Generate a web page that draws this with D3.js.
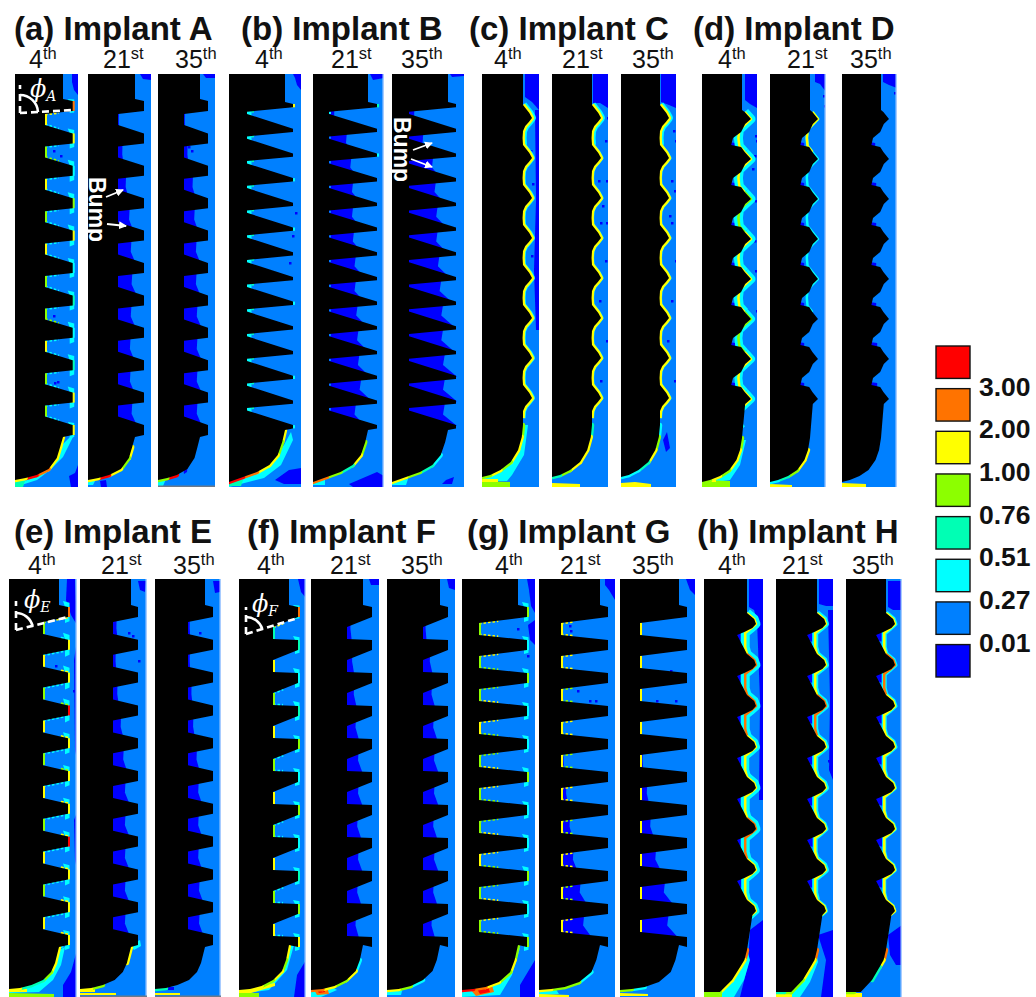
<!DOCTYPE html>
<html>
<head>
<meta charset="utf-8">
<script src="https://cdn.jsdelivr.net/npm/d3@7"></script>
<style>
  html, body { margin: 0; background: #fff; }
  text { font-family: "Liberation Sans", Arial, sans-serif; }
</style>
</head>
<body>
<div id="main"></div>
<script>
// Chart values

const implants = ['A', 'B', 'C', 'D', 'E', 'F', 'G', 'H'];
const panelTags = ['a', 'b', 'c', 'd', 'e', 'f', 'g', 'h'];
const days = [['4', 'th'], ['21', 'st'], ['35', 'th']];
const legendValues = ['3.00', '2.00', '1.00', '0.76', '0.51', '0.27', '0.01'];

// strain bands, low to high
const strainBreaks = [0.01, 0.27, 0.51, 0.76, 1, 2, 3];
const strainColors = ['#0000ff', '#0080ff', '#00ffff', '#00ffb4', '#8cff00', '#ffff00', '#ff7300', '#ff0000'];

// implant radii for each day (4th, 21st, 35th)
const neckRadius = {A: [48, 47, 42], B: [56, 55, 56], C: [41, 40, 39], D: [40, 40, 39], E: [50, 51, 50], F: [50, 52, 53], G: [56, 61, 59], H: [43, 41, 40]};
const crestRadius = {A: [57.7, 56, 50], B: [64, 64, 64], C: [50, 49, 48], D: [49, 48, 47], E: [59, 58, 58], F: [59, 61, 61], G: [65, 69, 67], H: [52, 50, 49]};
const rootRadius = {A: [30, 30, 26], B: [18, 16, 17], C: [41, 40, 39], D: [40, 40, 39], E: [34, 33, 33], F: [34, 36, 36], G: [17, 22, 20], H: [43, 41, 40]};

// one thread turn: [depth, 0 = root .. 1 = crest]
const toothShape = {
  A: [[0, 1], [10, 1], [13, 0], [24, 0]],
  B: [[0, 1], [3.3, 1], [7.7, 0], [10, 0]],
  C: [[0, 0], [4, 0.35], [8, 0.7], [13, 1], [17, 0.65], [21, 0.25], [26, 0], [33, -0.05]],
  D: [[0, 0.3], [7, 1], [12, 0.35], [20, -0.1], [26, -1], [33, -1.2], [35, -0.1]],
  E: [[0, 1], [10, 1], [15, 0], [27, 0]],
  F: [[0, 1], [10, 1], [20, 0], [32, 0]],
  G: [[0, 1], [10, 1], [16, 0], [28, 0]],
  H: [[0, 0], [6, 0.8], [11, 1], [15, 0.6], [19, -0.3], [22, -1.1]]
};
// contour line running in the tissue between the crests
const contourShape = {
  C: toothShape.C,
  D: [[0, 0.3], [7, 1], [12, 0.4], [18, -0.3], [26, -0.4], [34, -0.3], [37, 0]],
  H: [[0, 0], [6, 0.8], [11, 1], [15, 0.5], [20, -0.2], [34, -0.2]]
};
const toothPitch = {A: 32.4, B: 24.7, C: 40, D: 40, E: 32.8, F: 33, G: 33, H: 41};
const toothCount = {A: 11, B: 14, C: 8, D: 8, E: 11, F: 11, G: 11, H: 8};
const threadStart = {A: 101, B: 104, C: 105, D: 112, E: 607, F: 607, G: 607, H: 613};
const lastToothEnd = {A: 10, B: 3.3, C: 26, D: 14, E: 10, F: 10, G: 10, H: 15};

// apex curve: [share of neck radius, depth]
const apexCurve = {
  A: [[1, 437], [0.94, 447], [0.87, 458], [0.7, 469], [0.45, 475], [0.22, 478], [0, 480]],
  B: [[1, 430], [0.95, 442], [0.87, 455], [0.72, 465], [0.5, 472], [0.25, 477], [0, 482]],
  C: [[1, 425], [0.97, 437], [0.88, 450], [0.7, 462], [0.45, 470], [0.2, 475], [0, 477]],
  D: [[1, 438], [0.95, 450], [0.86, 460], [0.68, 470], [0.45, 476], [0.2, 480], [0, 482]],
  E: [[1, 947], [0.92, 963], [0.84, 972], [0.68, 980], [0.45, 985], [0.22, 988], [0, 989]],
  F: [[1, 945], [0.94, 960], [0.86, 971], [0.68, 980], [0.45, 986], [0.22, 989], [0, 990]],
  G: [[1, 945], [0.94, 960], [0.86, 972], [0.66, 982], [0.42, 987], [0.2, 989], [0, 990]],
  H: [[1, 950], [0.94, 960], [0.84, 967], [0.65, 980], [0.37, 992], [0.2, 992], [0, 992]]
};
const apexStrain = {
  A4: [1.5, 1.5, 1.5, 2.5, 3.5, 1.5], A21: [0.1, 1.5, 0.9, 1.5, 3.5, 1.5], A35: [0.1, 0.1, 0.1, 0.1, 3.5, 0.9],
  B4: [1.5, 0.9, 1.5, 1.5, 2.5, 3.5], B21: [0.1, 0.9, 1.5, 0.6, 0.9, 2.5], B35: [0.1, 0.1, 0.4, 0.6, 0.9, 1.5],
  C4: [0.9, 1.5, 1.5, 0.9, 1.5, 0.9], C21: [0.6, 1.5, 1.5, 1.5, 0.9, 0.6], C35: [0.4, 0.9, 1.5, 0.6, 0.4, 0.4],
  D4: [0.9, 1.5, 1.5, 0.9, 1.5, 0.9], D21: [0.1, 1.5, 1.5, 0.9, 0.6, 0.4], D35: [0.1, 0.1, 0.1, 0.1, 0.1, 0.1],
  E4: [1.5, 1.5, 0.9, 0.6, 0.6, 1.5], E21: [1.5, 0.1, 0.1, 0.1, 0.9, 1.5], E35: [0.1, 0.1, 0.1, 0.1, 0.1, 0.6],
  F4: [1.5, 0.9, 1.5, 0.9, 1.5, 1.5], F21: [0.1, 0.4, 1.5, 0.9, 1.5, 2.5], F35: [0.1, 0.1, 0.1, 0.4, 0.9, 1.5],
  G4: [0.9, 1.5, 0.9, 1.5, 2.5, 3.5], G21: [0.1, 0.1, 0.4, 0.9, 0.9, 1.5], G35: [0.1, 0.1, 0.1, 0.1, 0.4, 0.9],
  H4: [2.5, 1.5, 1.5, 1.5, 0.9, 0.9], H21: [2.5, 1.5, 1.5, 0.9, 0.9, 0.6], H35: [2.5, 1.5, 0.6, 0.1, 0.1, 0.9]
};

// width of the lowest strain zone in each gap between teeth
const gapLow = {
  A21: [1, 5, 9, 13, 15, 16, 15, 14, 14, 16],
  A35: [1, 4, 10, 12, 14, 14, 15, 15, 15, 15],
  B21: [6, 20, 25, 27, 27, 28, 30, 30, 32, 33, 34, 36, 30],
  B35: [6, 16, 27, 30, 32, 32, 34, 36, 38, 38, 40, 40, 40],
  E21: [4, 3, 5, 9, 12, 14, 14, 14, 14, 14],
  E35: [2, 2, 4, 6, 10, 12, 12, 12, 13, 13],
  F21: [4, 6, 8, 10, 13, 13, 12, 13, 12, 10],
  F35: [3, 8, 10, 12, 13, 13, 12, 13, 12, 10],
  G21: [0, 0, 0, 1, 3, 6, 10, 14, 22, 26],
  G35: [0, 0, 0, 0, 3, 8, 12, 18, 28, 32]
};
const notchLow = {
  D4: [3, 3, 3, 3, 3, 3, 3], D21: [3, 3, 3, 3, 3, 3, 3], D35: [3, 4, 4, 4, 4, 5, 5],
  H4: [4, 4, 4, 4, 4, 5, 5], H21: [6, 6, 6, 6, 6, 6, 6], H35: [7, 7, 7, 7, 7, 7, 7]
};

// strain along the thread surface, tooth by tooth
const threadStrain = {
  A4: {crest: [2, 1.5, 0.4, 0.9, 1.5, 0.4, 0.6, 0.4, 0.6, 1.5, 1.5], upper: [1.5, 0.4, 0.4, 0.4, 0.4, 0.4, 0.4, 0.4, 0.4, 0.4, 0.4], root: [1.5, 0.9, 1.5, 0.9, 1.5, 0.9, 0.9, 1.5, 0.9, 0.9], lower: [0.4, 0.9, 0.4, 0.4, 0.4, 0.4, 0.9, 0.4, 0.4, 0.4], halo: [2, 5, 6, 6, 6, 5, 5, 6, 6, 6, 3], reach: 0.5},
  B4: {crest: [1.5, 0.1, 0.1, 0.4, 0.1, 0.4, 0.1, 0.1, 0.4, 0.1, 0.1, 0.4, 0.1, 0.4], upper: [0.6, 0.6, 0.6, 0.6, 0.6, 0.6, 0.6, 0.6, 0.6, 0.6, 0.6, 0.6, 0.6], root: [0.4, 0.4, 0.4, 0.4, 0.4, 0.4, 0.4, 0.4, 0.4, 0.4, 0.4, 0.4, 0.4], rootWide: 9, reach: 0.15},
  B21: {crest: [0.6, 0.1, 0.4, 0.1, 0.1, 0.1, 0.1, 0.1, 0.1, 0.1, 0.1, 0.1, 0.1, 0.1], root: [0.4, 0.1, 0.1, 0.1, 0.1, 0.1, 0.1, 0.1, 0.1, 0.1, 0.1, 0.1, 0.1]},
  E4: {crest: [2.5, 1.5, 1.5, 3.5, 1.5, 1.5, 1.5, 3.5, 1.5, 1.5, 1.5], upper: [1.5, 0.4, 0.4, 0.4, 0.4, 0.4, 0.4, 0.4, 0.4, 0.4, 0.4], root: [0.9, 1.5, 0.9, 1.5, 0.9, 1.5, 0.9, 1.5, 0.9, 1.5], lowerTip: [0.4, 1.5, 0.9, 1.5, 0.9, 1.5, 1.5, 1.5, 1.5, 1.5], halo: [6, 7, 7, 7, 6, 6, 6, 6, 6, 6, 5]},
  F4: {crest: [2.5, 0.6, 0.4, 0.6, 0.9, 0.4, 0.9, 0.4, 0.6, 0.9, 1.5], upper: [1.5, 0.1, 0.4, 0.1, 0.4, 0.1, 0.4, 0.1, 0.4, 0.1, 0.4], root: [0.6, 1.5, 0.9, 1.5, 0.9, 1.5, 0.9, 1.5, 0.9, 1.5], lower: [0.1, 0.1, 0.4, 0.1, 0.4, 0.1, 0.4, 0.1, 0.4, 0.4], halo: [2, 4, 5, 5, 4, 4, 4, 4, 4, 4, 4], reach: 0.4},
  G4: {crest: [0.9, 0.4, 0.9, 0.4, 0.4, 0.9, 0.4, 0.4, 0.9, 0.4, 0.9], upper: [1.5, 1.5, 0.9, 1.5, 0.9, 1.5, 0.9, 1.5, 0.9, 1.5], root: [0.9, 0.9, 0.9, 1.5, 0.9, 0.9, 0.9, 1.5, 0.9, 0.9], lower: [1.5, 0.9, 1.5, 0.9, 1.5, 0.9, 1.5, 0.9, 1.5, 0.9], halo: [5, 4, 5, 4, 4, 5, 4, 4, 5, 4, 4], reach: 0.4},
  G21: {upper: [1.5, 1.5, 0.9, 1.5, 0.9, 1.5, 0.9, 1.5, 0.9, 1.5], root: [1.5, 1.5, 1.5, 1.5, 1.5, 1.5, 1.5, 1.5, 1.5, 1.5], lower: [1.5, 1.5, 0.9, 1.5, 0.9, 1.5, 0.9, 1.5, 0.9, 1.5], reach: 0.25},
  G35: {root: [1.5, 1.5, 1.5, 1.5, 1.5, 1.5, 1.5, 1.5, 1.5, 1.5]}
};

// strain on the contour of the rounded threads, tooth by tooth
const contourStrain = {
  C4: {line: [1.5, 1.5, 1.5, 1.5, 1.5, 1.5, 1.5, 1.5], halo: [8, 6, 6, 6, 6, 6, 6, 6]},
  C21: {line: [1.5, 1.5, 1.5, 1.5, 1.5, 1.5, 1.5, 1.5], halo: [8, 5, 5, 5, 5, 5, 5, 5]},
  C35: {line: [1.5, 1.5, 1.5, 1.5, 1.5, 1.5, 1.5, 1.5], halo: [8, 5, 5, 5, 5, 5, 5, 5]},
  D4: {line: [1.5, 1.5, 0.9, 1.5, 1.5, 0.9, 1.5, 1.5], halo: [9, 9, 9, 9, 9, 8, 8, 8]},
  D21: {line: [1.5, 0.4, 0.4, 0.4, 0.4, 0.1, 0.1, 0.1], halo: [3, 0, 0, 0, 0, 0, 0, 0]},
  H4: {line: [1.5, 2.5, 2.5, 1.5, 1.5, 2.5, 1.5, 1.5], halo: [9, 9, 9, 8, 9, 9, 8, 7]},
  H21: {line: [1.5, 1.5, 2.5, 1.5, 1.5, 1.5, 1.5, 1.5], halo: [6, 6, 6, 6, 6, 5, 6, 4]},
  H35: {line: [1.5, 2.5, 1.5, 1.5, 1.5, 1.5, 1.5, 1.5], halo: [5, 5, 5, 5, 4, 4, 4, 3]}
};

// patches of the field: [strain, outline of [radius, depth]]
const fieldZones = {
  A4: [[0.005, [[57, 74], [63, 74], [63, 95], [59, 90], [57, 82]]], [0.005, [[54, 476], [60, 473], [63, 465], [63, 487], [56, 487]]], [0.4, [[0, 480], [18, 476], [35, 466], [45, 447], [55, 437], [58, 437], [48, 457], [35, 470], [22, 480], [0, 487]]], [0.6, [[0, 481], [10, 481], [8, 487], [0, 487]]]],
  A21: [[0.005, [[52, 74], [63, 74], [63, 80], [55, 79]]], [0.005, [[12, 481], [18, 480], [19, 487], [13, 487]]], [0.4, [[0, 481], [7, 481], [5, 485], [0, 485]]]],
  A35: [[0.005, [[45, 74], [57, 74], [57, 78], [48, 78]]], [0.4, [[0, 479], [8, 479], [5, 486], [0, 486]]], [0.005, [[25, 465], [30, 462], [29, 472], [26, 474]]]],
  B4: [[0.005, [[64, 74], [72, 74], [72, 90], [68, 85], [66, 78]]], [0.4, [[0, 481], [20, 476], [40, 466], [55, 445], [62, 432], [64, 440], [52, 465], [35, 478], [0, 487]]], [0.005, [[46, 480], [60, 470], [72, 468], [72, 484], [55, 484]]], [0.6, [[0, 481], [14, 480], [12, 486], [0, 486]]]],
  B21: [[0.005, [[57, 74], [71, 74], [71, 78], [60, 80]]], [0.4, [[0, 481], [12, 479], [12, 485], [0, 485]]], [0.005, [[36, 484], [50, 478], [64, 472], [71, 476], [71, 487], [40, 487]]]],
  B35: [[0.005, [[58, 74], [72, 74], [72, 76], [60, 77]]], [0.4, [[0, 481], [16, 479], [14, 485], [0, 485]]], [0.005, [[50, 484], [54, 480], [62, 477], [60, 484]]]],
  C4: [[0.005, [[43, 74], [57, 74], [57, 110], [50, 102], [43, 97]]], [0.005, [[53, 110], [57, 110], [57, 330], [54, 330], [52, 270], [54, 200]]], [0.4, [[0, 477], [20, 470], [34, 455], [41, 425], [46, 425], [42, 455], [30, 475], [25, 481], [0, 481]]], [0.9, [[0, 481], [28, 482], [28, 487], [0, 487]]], [1.5, [[0, 479], [16, 479], [16, 482], [0, 482]]]],
  C21: [[0.005, [[41, 74], [56, 74], [56, 108], [48, 103], [41, 103]]], [1.5, [[0, 483], [28, 484], [28, 487], [0, 487]]]],
  C35: [[0.005, [[40, 74], [55, 74], [55, 108], [48, 105], [40, 102]]], [1.5, [[0, 483], [14, 482], [30, 484], [30, 487], [0, 487]]], [0.005, [[42, 440], [46, 432], [49, 448], [45, 452]]]],
  D4: [[0.005, [[43, 74], [55, 74], [55, 108], [48, 104], [43, 100]]], [0.4, [[0, 481], [20, 475], [33, 460], [40, 440], [44, 440], [38, 465], [28, 480], [0, 484]]], [0.9, [[0, 480], [28, 481], [28, 487], [0, 487]]], [1.5, [[0, 479], [14, 479], [14, 482], [0, 482]]]],
  D21: [[0.005, [[45, 74], [56, 74], [56, 92], [50, 84], [45, 82]]], [1.5, [[0, 484], [22, 485], [22, 487], [0, 487]]]],
  D35: [[0.005, [[41, 74], [55, 74], [55, 88], [47, 85], [41, 82]]], [1.5, [[0, 483], [24, 484], [24, 487], [0, 487]]]],
  E4: [[0.005, [[58, 579], [66, 579], [68, 625], [62, 615], [57, 600]]], [0.005, [[65, 660], [68, 640], [68, 760], [66, 750]]], [0.005, [[65, 820], [68, 812], [68, 870], [66, 860]]], [0.005, [[54, 985], [62, 972], [68, 950], [68, 997], [54, 997]]], [0.4, [[0, 989], [20, 985], [38, 975], [50, 950], [56, 947], [52, 965], [44, 980], [30, 992], [0, 993]]], [0.9, [[0, 993], [45, 994], [45, 997], [0, 997]]], [1.5, [[0, 989], [18, 989], [18, 992], [0, 992]]]],
  E21: [[0.005, [[58, 581], [66, 581], [65, 592], [60, 590]]], [0.4, [[50, 945], [60, 940], [61, 946], [54, 950]]], [1.5, [[0, 990], [15, 989], [15, 992], [0, 992]]], [1.5, [[0, 993], [36, 993], [36, 995], [0, 995]]]],
  E35: [[0.005, [[58, 581], [65, 581], [65, 592], [60, 593]]], [1.5, [[0, 993], [25, 993], [25, 995], [0, 995]]], [0.005, [[12, 987], [19, 987], [19, 990], [13, 990]]]],
  F4: [[0.005, [[59, 579], [67, 579], [67, 598], [62, 592]]], [0.005, [[58, 975], [67, 960], [67, 997], [55, 997]]], [0.4, [[0, 990], [20, 985], [38, 975], [49, 947], [55, 945], [48, 970], [30, 990], [0, 994]]], [1.5, [[0, 989], [36, 983], [36, 986], [12, 993], [0, 993]]], [0.9, [[0, 993], [20, 993], [20, 997], [0, 997]]]],
  F21: [[0.005, [[58, 579], [68, 579], [68, 585], [60, 585]]], [0.4, [[0, 988], [18, 985], [26, 990], [10, 997], [0, 997]]], [2.5, [[2, 988], [16, 986], [18, 994], [6, 995]]], [3.5, [[6, 990], [13, 988], [14, 992], [8, 993]]]],
  F35: [[0.005, [[60, 579], [68, 579], [68, 590], [62, 588]]], [0.4, [[0, 990], [16, 987], [14, 995], [0, 995]]]],
  G4: [[0.005, [[65, 579], [73, 579], [73, 613], [69, 606], [67, 590]]], [0.005, [[66, 625], [73, 620], [73, 645], [68, 640]]], [0.4, [[0, 990], [22, 988], [40, 980], [52, 950], [58, 948], [50, 975], [38, 995], [0, 997]]], [2.5, [[8, 989], [30, 985], [32, 992], [14, 996]]], [3.5, [[15, 989], [26, 987], [28, 992], [18, 994]]], [0.005, [[58, 985], [73, 960], [73, 997], [58, 997]]]],
  G21: [[0.005, [[66, 579], [76, 579], [76, 600], [70, 590], [66, 585]]], [0.4, [[0, 990], [16, 988], [20, 994], [0, 995]]], [1.5, [[0, 994], [30, 995], [30, 997], [0, 997]]]],
  G35: [[0.005, [[66, 579], [75, 579], [75, 595], [70, 590]]], [1.5, [[0, 993], [28, 994], [28, 996], [0, 996]]]],
  H4: [[0.005, [[45, 579], [59, 579], [59, 800], [55, 800], [56, 700], [53, 620], [50, 610], [45, 607]]], [0.005, [[46, 930], [59, 920], [59, 997], [36, 997], [44, 965]]], [0.4, [[16, 992], [30, 980], [37, 967], [43, 950], [46, 960], [40, 980], [30, 997], [16, 997]]], [0.9, [[0, 992], [18, 992], [18, 997], [0, 997]]]],
  H21: [[0.005, [[43, 579], [57, 579], [57, 606], [50, 606], [43, 604]]], [0.005, [[52, 610], [57, 610], [57, 780], [53, 770], [54, 700]]], [0.005, [[42, 935], [57, 930], [57, 997], [45, 997], [50, 960]]], [0.4, [[16, 992], [26, 982], [36, 967], [40, 950], [42, 962], [34, 982], [24, 997], [16, 997]]], [1.5, [[0, 994], [16, 994], [16, 997], [0, 997]]]],
  H35: [[0.005, [[42, 581], [56, 581], [56, 610], [47, 610], [42, 607]]], [0.005, [[42, 935], [56, 925], [56, 965], [50, 965], [44, 955]]], [1.5, [[0, 993], [16, 993], [16, 997], [0, 997]]]]
};

// single low strain cells: [radius, depth]
const speckles = {
  A4: [[38, 315], [42, 381], [39, 382], [38, 150], [45, 155]],
  A35: [[30, 146], [33, 150]],
  B4: [[63, 235], [60, 262], [66, 212]],
  C4: [[52, 118], [48, 150], [50, 183], [44, 228], [49, 255]],
  C21: [[55, 117], [53, 140], [46, 180], [54, 180], [50, 205], [48, 222], [54, 222], [53, 260], [47, 300], [54, 340], [48, 380]],
  C35: [[52, 130], [54, 140], [50, 180], [53, 190], [48, 215], [50, 222], [44, 240], [54, 260], [50, 300], [46, 340], [53, 380]],
  D4: [[53, 135], [54, 140], [52, 155], [50, 168], [53, 200], [52, 240], [53, 270], [54, 310]],
  D21: [[53, 95], [54, 105]],
  D35: [[52, 92], [54, 96]],
  E4: [[50, 648], [46, 665], [64, 690], [66, 720]],
  E21: [[48, 632], [52, 635], [58, 660]],
  E35: [[44, 632], [52, 640]],
  G4: [[50, 615], [55, 628], [65, 655]],
  G21: [[30, 625], [31, 630], [38, 690], [50, 700], [56, 700]],
  G35: [[50, 670], [55, 700], [36, 700]],
  H21: [[48, 700], [52, 760]]
};

// Layout
const w = 1036;
const h = 997;
const rows = [{top: 74, bottom: 487, title: 39.5, day: 68}, {top: 579, bottom: 997, title: 543, day: 574}];
const frameEdges = {
  A: [[15, 78], [88, 151], [158, 215]], B: [[229, 301], [313, 384], [392, 464]],
  C: [[482, 539], [552, 608], [621, 676]], D: [[702, 757], [770, 826], [842, 897]],
  E: [[9, 77], [80, 147], [155, 221]], F: [[239, 306], [311, 379], [387, 455]],
  G: [[462, 535], [539, 615], [620, 695]], H: [[704, 763], [776, 833], [846, 902]]
};
const titleLeft = {A: 14, B: 241, C: 469, D: 693, E: 14, F: 247, G: 467, H: 697};
const dayLeft = {
  A: [29, 103, 175], B: [255, 331, 401], C: [494, 562, 632], D: [718, 787, 850],
  E: [28, 101, 173], F: [257, 330, 401], G: [495, 560, 632], H: [718, 782, 852]
};
// frames with a pale right edge or a grey foot in the source image
const paleEdge = ['E4', 'E21', 'E35', 'F4', 'B21', 'H35', 'D21', 'D35'];
const greyFoot = ['E21', 'E35', 'A35'];

const strainColor = d3.scaleThreshold().domain(strainBreaks).range(strainColors);

const svg = d3.select('#main').append('svg').attr('width', w).attr('height', h).style('display', 'block');
const defs = svg.append('defs');
defs.append('filter').attr('id', 'soft').append('feGaussianBlur').attr('stdDeviation', 0.4);

implants.forEach((imp, p) => {
  const row = rows[p < 4 ? 0 : 1];

  svg.append('text')
    .attr('x', titleLeft[imp]).attr('y', row.title)
    .attr('font-size', 33).attr('font-weight', 'bold').attr('fill', '#111')
    .text(`(${panelTags[p]}) Implant ${imp}`);

  days.forEach((day, f) => {
    const key = imp + day[0];
    const [left, right] = frameEdges[imp][f];

    // day label with raised suffix
    const label = svg.append('text').attr('x', dayLeft[imp][f]).attr('y', row.day).attr('fill', '#111').attr('font-size', 25);
    label.append('tspan').text(day[0]);
    label.append('tspan').attr('font-size', 16.5).attr('dy', -9).text(day[1]);

    const x = d3.scaleLinear().domain([0, right - left]).range([left, right]);
    const y = d3.scaleLinear().domain([row.top, row.bottom]).range([row.top, row.bottom]);
    const line = d3.line().x((d) => x(d[0])).y((d) => y(d[1]));

    const neck = neckRadius[imp][f];
    const crest = crestRadius[imp][f];
    const root = rootRadius[imp][f];
    const radius = (share) => root + share * (crest - root);
    const toPoints = (shape, n) => shape.map((s) => [radius(s[1]), threadStart[imp] + n * toothPitch[imp] + s[0]]);

    const clipId = 'clip-' + key;
    defs.append('clipPath').attr('id', clipId).append('rect')
      .attr('x', left).attr('y', row.top).attr('width', right - left).attr('height', row.bottom - row.top);
    const g = svg.append('g').attr('clip-path', `url(#${clipId})`).append('g').attr('filter', 'url(#soft)');

    // base field
    g.append('rect')
      .attr('x', left - 2).attr('y', row.top - 2).attr('width', right - left + 4).attr('height', row.bottom - row.top + 4)
      .attr('fill', strainColor(0.1));

    // patches
    g.selectAll('path.zone').data(fieldZones[key] || []).enter().append('path')
      .attr('class', 'zone')
      .attr('d', (d) => line(d[1]) + 'Z')
      .attr('fill', (d) => strainColor(d[0]));

    // low strain zones in the gaps
    const count = toothCount[imp];
    const shape = toothShape[imp];
    const crestEnd = shape[1][0];
    (gapLow[key] || []).forEach((width, n) => {
      if (!width) return;
      const top = threadStart[imp] + n * toothPitch[imp] + crestEnd - 1;
      const bottom = threadStart[imp] + (n + 1) * toothPitch[imp] + 1;
      const mid = (top + bottom) / 2;
      g.append('path')
        .attr('d', line([[root - 1, top], [root + width * 0.9, top], [root + width * 0.85, mid], [root + width * 1.2, bottom], [root - 1, bottom]]) + 'Z')
        .attr('fill', strainColor(0.005));
    });
    (notchLow[key] || []).forEach((width, n) => {
      const notch = threadStart[imp] + n * toothPitch[imp] + d3.greatest(shape, (s) => -s[1])[0];
      g.append('path')
        .attr('d', line([[radius(-1.4), notch - 3], [radius(-1.1) + width, notch - 2], [radius(-1.1) + width, notch + 7], [radius(-1.4), notch + 4]]) + 'Z')
        .attr('fill', strainColor(0.005));
    });

    g.selectAll('rect.speckle').data(speckles[key] || []).enter().append('rect')
      .attr('class', 'speckle')
      .attr('x', (d) => x(d[0])).attr('y', (d) => y(d[1]))
      .attr('width', 2.5).attr('height', 2.5)
      .attr('fill', strainColor(0.005));

    // surface strain on sharp threads
    const surface = threadStrain[key];
    if (surface) {
      (surface.halo || []).forEach((len, n) => {
        const pts = toPoints(shape, n);
        g.append('path')
          .attr('d', line([[crest - 5, pts[0][1] - len], [crest + 1.5, pts[0][1] - len * 0.7], [crest + 1.5, pts[1][1] + len * 0.7], [crest - 3, pts[1][1] + len], [crest - 3, pts[1][1]], [crest - 3, pts[0][1]]]) + 'Z')
          .attr('fill', strainColor(0.4));
      });
      d3.range(count).forEach((n) => {
        const pts = toPoints(shape, n);
        const next = toPoints(shape, n + 1);
        const reach = surface.reach || 1;
        const stroke = (a, b, value, width, dash) => {
          if (!value || value < 0.27) return;
          g.append('path')
            .attr('d', line([a, b]))
            .attr('fill', 'none')
            .attr('stroke', strainColor(value))
            .attr('stroke-width', width)
            .attr('stroke-dasharray', dash || null);
        };
        const along = (from, to, share) => [from[0] + (to[0] - from[0]) * share, from[1] + (to[1] - from[1]) * share];
        if (surface.upper) stroke(pts[2], along(pts[2], pts[1], reach), surface.upper[n], 3, '2.5 2');
        if (surface.lower) stroke(pts[3], along(pts[3], next[0], reach), surface.lower[n], 3, '2.5 2');
        if (surface.lowerTip) stroke(next[0], along(next[0], pts[3], 0.35), surface.lowerTip[n], 3, '3 1.5');
        if (surface.crest) stroke(pts[0], pts[1], surface.crest[n], 4);
        if (surface.root) {
          const wide = surface.rootWide || 4;
          g.append('path').attr('d', line([pts[2], pts[3]]))
            .attr('fill', 'none')
            .attr('stroke', strainColor(surface.root[n] || 0.1))
            .attr('stroke-linecap', wide > 4 ? 'square' : 'butt')
            .attr('stroke-width', wide);
        }
      });
    }

    // strain on rounded thread contours
    const contour = contourStrain[key];
    if (contour) {
      const offLine = imp !== 'C';
      const turn = (n) => toPoints(contourShape[imp], n).concat(n < count - 1 ? [toPoints(contourShape[imp], n + 1)[0]] : []);
      d3.range(count).forEach((n) => {
        if (!contour.halo[n]) return;
        g.append('path').attr('d', line(turn(n)))
          .attr('fill', 'none')
          .attr('stroke', strainColor(0.4))
          .attr('stroke-linejoin', 'round')
          .attr('stroke-width', contour.halo[n]);
      });
      d3.range(count).forEach((n) => {
        if (contour.line[n] < 0.27) return;
        g.append('path').attr('d', line(turn(n)))
          .attr('fill', 'none')
          .attr('stroke', strainColor(contour.line[n]))
          .attr('stroke-linejoin', 'round')
          .attr('stroke-width', offLine ? 2.5 : 4.5);
      });
    }

    // strain along the apex
    const apex = apexCurve[imp].map((d) => [d[0] * neck, d[1]]);
    d3.pairs(apex).forEach((pair, i) => {
      const value = apexStrain[key][i];
      if (value < 0.27) return;
      g.append('path').attr('d', line(pair))
        .attr('fill', 'none')
        .attr('stroke', strainColor(value))
        .attr('stroke-linecap', 'round')
        .attr('stroke-width', 4.5);
    });

    // implant body
    const lastEnd = lastToothEnd[imp];
    const thread = d3.range(count).flatMap((n) => {
      const part = n === count - 1 ? shape.filter((s) => s[0] <= lastEnd) : shape;
      return toPoints(part, n);
    });
    const outline = [[-3, row.top - 3], [neck, row.top - 3], [neck, threadStart[imp] - 2]]
      .concat(thread, apex, [[-3, apex[apex.length - 1][1]]]);
    g.append('path').attr('d', line(outline) + 'Z').attr('fill', '#000');

    // source image edges
    if (paleEdge.includes(key)) {
      svg.append('rect').attr('x', right - 1.5).attr('y', row.top).attr('width', 1.5).attr('height', row.bottom - row.top).attr('fill', '#a8ccff');
    }
    if (greyFoot.includes(key)) {
      svg.append('rect').attr('x', left).attr('y', row.bottom - 1.5).attr('width', right - left).attr('height', 1.5).attr('fill', '#6b7a8c');
    }
  });
});

// Colour key
const legendY = d3.scaleBand().domain(d3.range(strainColors.length)).range([346, 677]).paddingInner(0.24).paddingOuter(0);
svg.append('g').selectAll('rect').data(strainColors.slice().reverse()).enter().append('rect')
  .attr('x', 936).attr('y', (d, i) => legendY(i))
  .attr('width', 34).attr('height', legendY.bandwidth())
  .attr('fill', (d) => d)
  .attr('stroke', '#111').attr('stroke-width', 1.4);
svg.append('g').selectAll('text').data(legendValues).enter().append('text')
  .attr('x', 979)
  .attr('y', (d, i) => legendY(i) + legendY.step() + 7)
  .attr('font-size', 26.5).attr('font-weight', 'bold').attr('fill', '#111')
  .text((d) => d);

// Angle marks on the 4th day frames
const angleMarks = [
  {letter: 'A', x0: 20, y0: 113, x1: 73, y1: 110, top: 85, r: 18, tx: 30, ty: 97},
  {letter: 'E', x0: 16, y0: 630, x1: 68, y1: 617, top: 601, r: 17, tx: 24, ty: 608},
  {letter: 'F', x0: 246, y0: 634, x1: 298, y1: 618, top: 607, r: 17, tx: 252, ty: 612}
];
angleMarks.forEach((m) => {
  const mark = svg.append('g').attr('fill', 'none').attr('stroke', '#fff').attr('stroke-width', 2.6);
  mark.append('path').attr('d', `M${m.x0},${m.y0}L${m.x1},${m.y1}`).attr('stroke-dasharray', '7 4');
  mark.append('path').attr('d', `M${m.x0},${m.y0}L${m.x0},${m.top}`).attr('stroke-dasharray', '7 5');
  const slope = Math.atan2(m.y1 - m.y0, m.x1 - m.x0);
  mark.append('path').attr('d', d3.arc()({innerRadius: m.r, outerRadius: m.r, startAngle: 0, endAngle: Math.PI / 2 + slope}))
    .attr('transform', `translate(${m.x0},${m.y0})`);
  const t = svg.append('text').attr('x', m.tx).attr('y', m.ty).attr('fill', '#fff')
    .attr('font-style', 'italic').attr('font-size', 24).style('font-family', '"DejaVu Serif", serif');
  t.append('tspan').text('\u03d5');
  t.append('tspan').attr('font-size', 14).attr('dy', 4).text(m.letter);
});

// Bump notes
defs.append('marker').attr('id', 'arrow').attr('viewBox', '0 0 8 8').attr('refX', 7).attr('refY', 4)
  .attr('markerWidth', 8).attr('markerHeight', 8).attr('markerUnits', 'userSpaceOnUse').attr('orient', 'auto')
  .append('path').attr('d', 'M0,0L8,4L0,8Z').attr('fill', '#fff');
const bumpNotes = [
  {x: 89, y: 177, arrows: [[106, 197, 123, 190], [107, 224, 126, 226]]},
  {x: 394, y: 117, arrows: [[413, 150, 432, 143], [411, 159, 432, 167]]}
];
bumpNotes.forEach((b) => {
  svg.append('text')
    .attr('transform', `translate(${b.x},${b.y}) rotate(90)`)
    .attr('font-size', 23).attr('font-weight', 'bold').attr('fill', '#fff')
    .text('Bump');
  b.arrows.forEach((a) => {
    svg.append('line').attr('x1', a[0]).attr('y1', a[1]).attr('x2', a[2]).attr('y2', a[3])
      .attr('stroke', '#fff').attr('stroke-width', 1.8).attr('marker-end', 'url(#arrow)');
  });
});
</script>
</body>
</html>
